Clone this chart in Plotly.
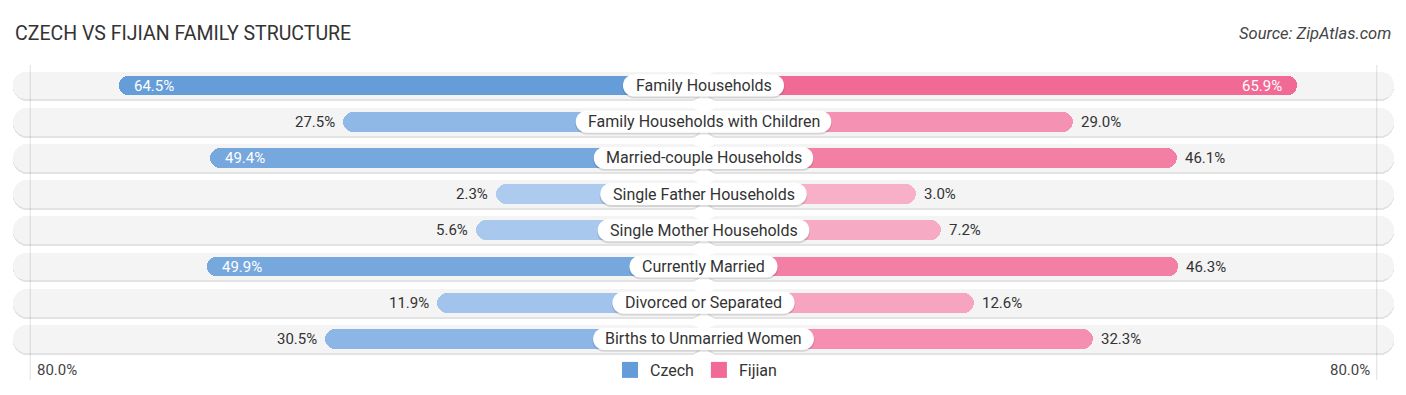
import plotly.graph_objects as go

# ---------------- data ----------------
categories = [
    "Family Households",
    "Family Households with Children",
    "Married-couple Households",
    "Single Father Households",
    "Single Mother Households",
    "Currently Married",
    "Divorced or Separated",
    "Births to Unmarried Women",
]
czech = [64.5, 27.5, 49.4, 2.3, 5.6, 49.9, 11.9, 30.5]
fijian = [65.9, 29.0, 46.1, 3.0, 7.2, 46.3, 12.6, 32.3]
series_names = ["Czech", "Fijian"]
axis_label = "80.0%"
title_text = "CZECH VS FIJIAN FAMILY STRUCTURE"
source_text = "Source: ZipAtlas.com"

# ---------------- layout constants ----------------
PAD = 8                      # default page body margin
W, H = 1390, 379             # figure size (fits the 1406x395 window with margin)
CENTER_PX = 703.5 - PAD
PX_PER_UNIT = 6.06
OFFSET = 32.0                # bars begin under the centre label
ROW0_PX = 85.5 - PAD
ROW_PX = 36.2
BG_HALF = 114.0              # half-length of grey row pill (axis units)
GRID_X = 111.1               # position of the faint 80% guide lines
FONT = "Roboto, Arial, sans-serif"

x_range = [-CENTER_PX / PX_PER_UNIT, (W - CENTER_PX) / PX_PER_UNIT]
y_range = [(H - ROW0_PX) / ROW_PX, -ROW0_PX / ROW_PX]  # reversed


def px(p):   # page x pixel -> paper fraction
    return (p - PAD) / W


def py(p):   # page y pixel -> paper fraction
    return 1 - (p - PAD) / H


BLUE_LIGHT, BLUE_DARK = (176, 204, 240), (99, 156, 216)
PINK_LIGHT, PINK_DARK = (248, 178, 202), (241, 105, 149)
VMAX = 66.0


def mix(c0, c1, t):
    t = max(0.0, min(1.0, t))
    return "rgb(%d,%d,%d)" % tuple(round(a + (b - a) * t) for a, b in zip(c0, c1))


# approximate Roboto advance widths (units per em 2048)
ADV = {
    'a': 1088, 'b': 1120, 'c': 1045, 'd': 1126, 'e': 1058, 'f': 693, 'g': 1120,
    'h': 1102, 'i': 486, 'j': 478, 'k': 1014, 'l': 486, 'm': 1751, 'n': 1102,
    'o': 1140, 'p': 1120, 'q': 1133, 'r': 678, 's': 1031, 't': 655, 'u': 1102,
    'v': 968, 'w': 1502, 'x': 991, 'y': 946, 'z': 991, ' ': 508, '-': 553,
    'B': 1274, 'C': 1302, 'D': 1311, 'F': 1133, 'H': 1424, 'M': 1745,
    'S': 1232, 'T': 1222, 'U': 1296, 'W': 1817,
}


def text_width(s, size):
    return sum(ADV.get(ch, 1100) for ch in s) / 2048.0 * size


def pill_path(w, h):
    r = h / 2.0
    a = w / 2.0 - r
    k = 0.5523 * r
    return (
        f"M {-a},{-r} L {a},{-r} "
        f"C {a + k},{-r} {a + r},{-k} {a + r},0 "
        f"C {a + r},{k} {a + k},{r} {a},{r} "
        f"L {-a},{r} "
        f"C {-a - k},{r} {-a - r},{k} {-a - r},0 "
        f"C {-a - r},{-k} {-a - k},{-r} {-a},{-r} Z"
    )


rows = list(range(len(categories)))
fig = go.Figure()

# grey row pills (shadow + fill), drawn as two halves from the centre
for shift, col, wd in [(0.04, "rgba(0,0,0,0.11)", 0.80), (0.0, "#f4f4f4", 0.77)]:
    for sgn in (-1, 1):
        fig.add_trace(go.Bar(
            y=rows, x=[sgn * BG_HALF] * len(rows), base=0, orientation="h",
            width=wd, offset=-wd / 2 + shift,
            marker=dict(color=col, cornerradius=14, line=dict(width=0)),
            showlegend=False, hoverinfo="skip",
        ))

# data bars
BAR_W = 0.55
fig.add_trace(go.Bar(
    y=rows, x=[-(OFFSET + v) for v in czech], base=0, orientation="h",
    width=BAR_W, offset=-BAR_W / 2,
    marker=dict(color=[mix(BLUE_LIGHT, BLUE_DARK, v / VMAX) for v in czech],
                cornerradius=10, line=dict(width=0)),
    name=series_names[0], showlegend=False, hoverinfo="skip",
))
fig.add_trace(go.Bar(
    y=rows, x=[(OFFSET + v) for v in fijian], base=0, orientation="h",
    width=BAR_W, offset=-BAR_W / 2,
    marker=dict(color=[mix(PINK_LIGHT, PINK_DARK, v / VMAX) for v in fijian],
                cornerradius=10, line=dict(width=0)),
    name=series_names[1], showlegend=False, hoverinfo="skip",
))

# legend entries
fig.add_trace(go.Scatter(x=[None], y=[None], mode="markers", name=series_names[0],
                         marker=dict(symbol="square", size=16, color=mix(BLUE_LIGHT, BLUE_DARK, 1))))
fig.add_trace(go.Scatter(x=[None], y=[None], mode="markers", name=series_names[1],
                         marker=dict(symbol="square", size=16, color=mix(PINK_LIGHT, PINK_DARK, 1))))

shapes = []
annotations = []
LABEL_SIZE = 16
VALUE_SIZE = 15
INSIDE_MIN = 48

for i, cat in enumerate(categories):
    w = text_width(cat, LABEL_SIZE) + 28
    # soft shadow under the label pill
    shapes.append(dict(
        type="path", layer="above", xref="x", yref="y",
        xsizemode="pixel", ysizemode="pixel", xanchor=0, yanchor=i + 1.6 / ROW_PX,
        path=pill_path(w + 1, 22.5), fillcolor="rgba(0,0,0,0.13)", line=dict(width=0),
    ))
    shapes.append(dict(
        type="path", layer="above", xref="x", yref="y",
        xsizemode="pixel", ysizemode="pixel", xanchor=0, yanchor=i,
        path=pill_path(w, 22), fillcolor="white", line=dict(width=0),
    ))
    annotations.append(dict(x=0, y=i, xref="x", yref="y", text=cat, showarrow=False,
                            font=dict(family=FONT, size=LABEL_SIZE, color="#333333"),
                            xanchor="center", yanchor="middle"))

    vc = czech[i]
    inside = vc >= INSIDE_MIN
    annotations.append(dict(
        x=-(OFFSET + vc), y=i, xref="x", yref="y", text=f"{vc:.1f}%", showarrow=False,
        xanchor="left" if inside else "right", xshift=13 if inside else -6,
        yanchor="middle",
        font=dict(family=FONT, size=VALUE_SIZE, color="white" if inside else "#333333")))
    vf = fijian[i]
    inside = vf >= INSIDE_MIN
    annotations.append(dict(
        x=(OFFSET + vf), y=i, xref="x", yref="y", text=f"{vf:.1f}%", showarrow=False,
        xanchor="right" if inside else "left", xshift=-13 if inside else 6,
        yanchor="middle",
        font=dict(family=FONT, size=VALUE_SIZE, color="white" if inside else "#333333")))

# faint guide lines at 80%
for sgn in (-1, 1):
    shapes.append(dict(type="line", layer="above", xref="x", yref="paper",
                       x0=sgn * GRID_X, x1=sgn * GRID_X, y0=py(380), y1=py(65),
                       line=dict(color="rgba(0,0,0,0.13)", width=1)))

# axis end labels
annotations.append(dict(x=-GRID_X, y=py(370), xref="x", yref="paper", text=axis_label,
                        showarrow=False, xanchor="left", xshift=5, yanchor="middle",
                        font=dict(family=FONT, size=15, color="#444444")))
annotations.append(dict(x=GRID_X, y=py(370), xref="x", yref="paper", text=axis_label,
                        showarrow=False, xanchor="right", xshift=-5, yanchor="middle",
                        font=dict(family=FONT, size=15, color="#444444")))

# title and source
annotations.append(dict(x=px(13), y=py(33), xref="paper", yref="paper", text=title_text,
                        showarrow=False, xanchor="left", yanchor="middle",
                        font=dict(family=FONT, size=19.5, color="#333333")))
annotations.append(dict(x=px(1393), y=py(33), xref="paper", yref="paper",
                        text=f"<i>{source_text}</i>",
                        showarrow=False, xanchor="right", yanchor="middle",
                        font=dict(family=FONT, size=16.5, color="#444444")))

fig.update_layout(
    width=W, height=H,
    margin=dict(l=0, r=0, t=0, b=0),
    paper_bgcolor="white", plot_bgcolor="white",
    barmode="overlay", bargap=0,
    xaxis=dict(range=x_range, visible=False, fixedrange=True),
    yaxis=dict(range=y_range, visible=False, fixedrange=True),
    shapes=shapes, annotations=annotations,
    showlegend=True,
    legend=dict(orientation="h", x=px(696), xanchor="center", y=py(370), yanchor="middle",
                font=dict(family=FONT, size=16, color="#333333"),
                bgcolor="rgba(0,0,0,0)", itemclick=False, itemdoubleclick=False),
    font=dict(family=FONT),
    hovermode=False,
)

fig.write_html("out.html", config={"displayModeBar": False})
